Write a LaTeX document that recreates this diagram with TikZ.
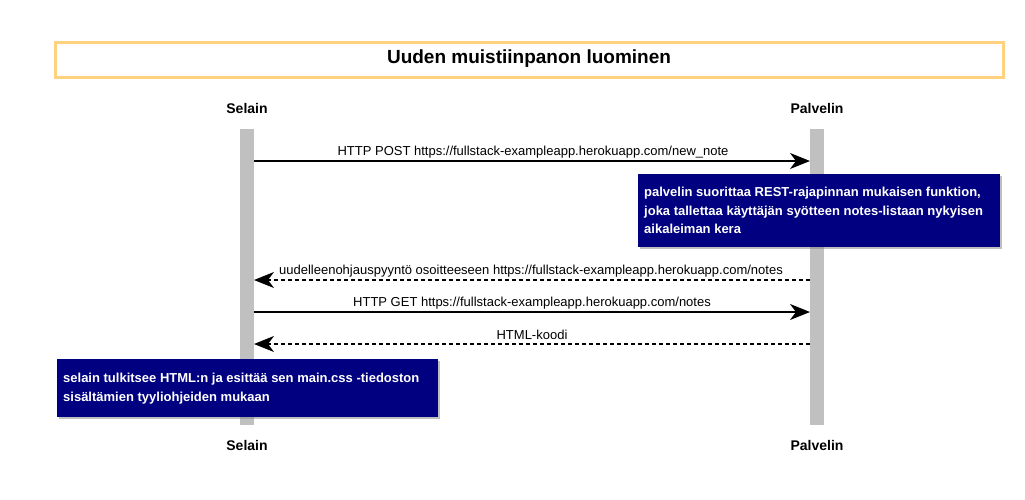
\documentclass[tikz,border=0pt]{standalone}
\usepackage{fontspec}
\setmainfont{Liberation Sans}
\usetikzlibrary{arrows.meta,shadows}
\definecolor{titleborder}{HTML}{FFD27F}
\definecolor{lifegray}{HTML}{C0C0C0}
\definecolor{notenavy}{HTML}{000080}
\tikzset{
  lifebar/.style={fill=lifegray,draw=none},
  actor/.style={font=\fontsize{14}{16}\selectfont\bfseries,inner sep=0pt},
  msg/.style={line width=1.3pt,-{Stealth[length=20pt,width=16pt,inset=6pt]}},
  reply/.style={msg,dash pattern=on 4pt off 3pt},
  msglabel/.style={font=\fontsize{13}{15}\selectfont,inner sep=0pt},
  notebg/.style={fill=notenavy,drop shadow={shadow xshift=2pt,shadow yshift=-2pt,fill=black!50}},
  notetext/.style={text=white,align=left,anchor=north west,font=\fontsize{13}{18.5}\selectfont\bfseries,inner sep=0pt},
}
\begin{document}
\begin{tikzpicture}[x=1pt,y=-1pt]
\useasboundingbox (0,0) rectangle (1025,499);
% title
\draw[titleborder,line width=3pt] (55,42) rectangle (1003,77);
\node[font=\fontsize{19}{22}\selectfont\bfseries,inner sep=0pt] (title) at (529,59) {Uuden muistiinpanon luominen};
% lifelines
\fill[lifebar] (240,129) rectangle (254,425);
\fill[lifebar] (810,129) rectangle (824,425);
\node[actor] (s1) at (247,108) {Selain};
\node[actor] (p1) at (817,108) {Palvelin};
\node[actor] (s2) at (247,445) {Selain};
\node[actor] (p2) at (817,445) {Palvelin};
\coordinate (sA) at (254,161); \coordinate (pA) at (810,161);
\coordinate (sB) at (254,280); \coordinate (pB) at (810,280);
\coordinate (sC) at (254,312); \coordinate (pC) at (810,312);
\coordinate (sD) at (254,344); \coordinate (pD) at (810,344);
\draw[msg] (sA) -- (pA);
\node[msglabel] (lA) at (533,152) {HTTP POST https://fullstack-exampleapp.herokuapp.com/new\_note};
\draw[reply] (pB) -- (sB);
\node[msglabel] (lB) at (531,271) {uudelleenohjauspyyntö osoitteeseen https://fullstack-exampleapp.herokuapp.com/notes};
\draw[msg] (sC) -- (pC);
\node[msglabel] (lC) at (532,303) {HTTP GET https://fullstack-exampleapp.herokuapp.com/notes};
\draw[reply] (pD) -- (sD);
\node[msglabel] (lD) at (532,335) {HTML-koodi};
% notes
\fill[notebg] (638,174) rectangle (1000,247);
\node[notetext] (n1) at (644,187)
 {palvelin suorittaa REST-rajapinnan mukaisen funktion,\\joka tallettaa käyttäjän syötteen notes-listaan nykyisen\\aikaleiman kera};
\fill[notebg] (57,359) rectangle (438,417);
\node[notetext] (n2) at (63,373)
 {selain tulkitsee HTML:n ja esittää sen main.css -tiedoston\\sisältämien tyyliohjeiden mukaan};
\end{tikzpicture}
\end{document}
